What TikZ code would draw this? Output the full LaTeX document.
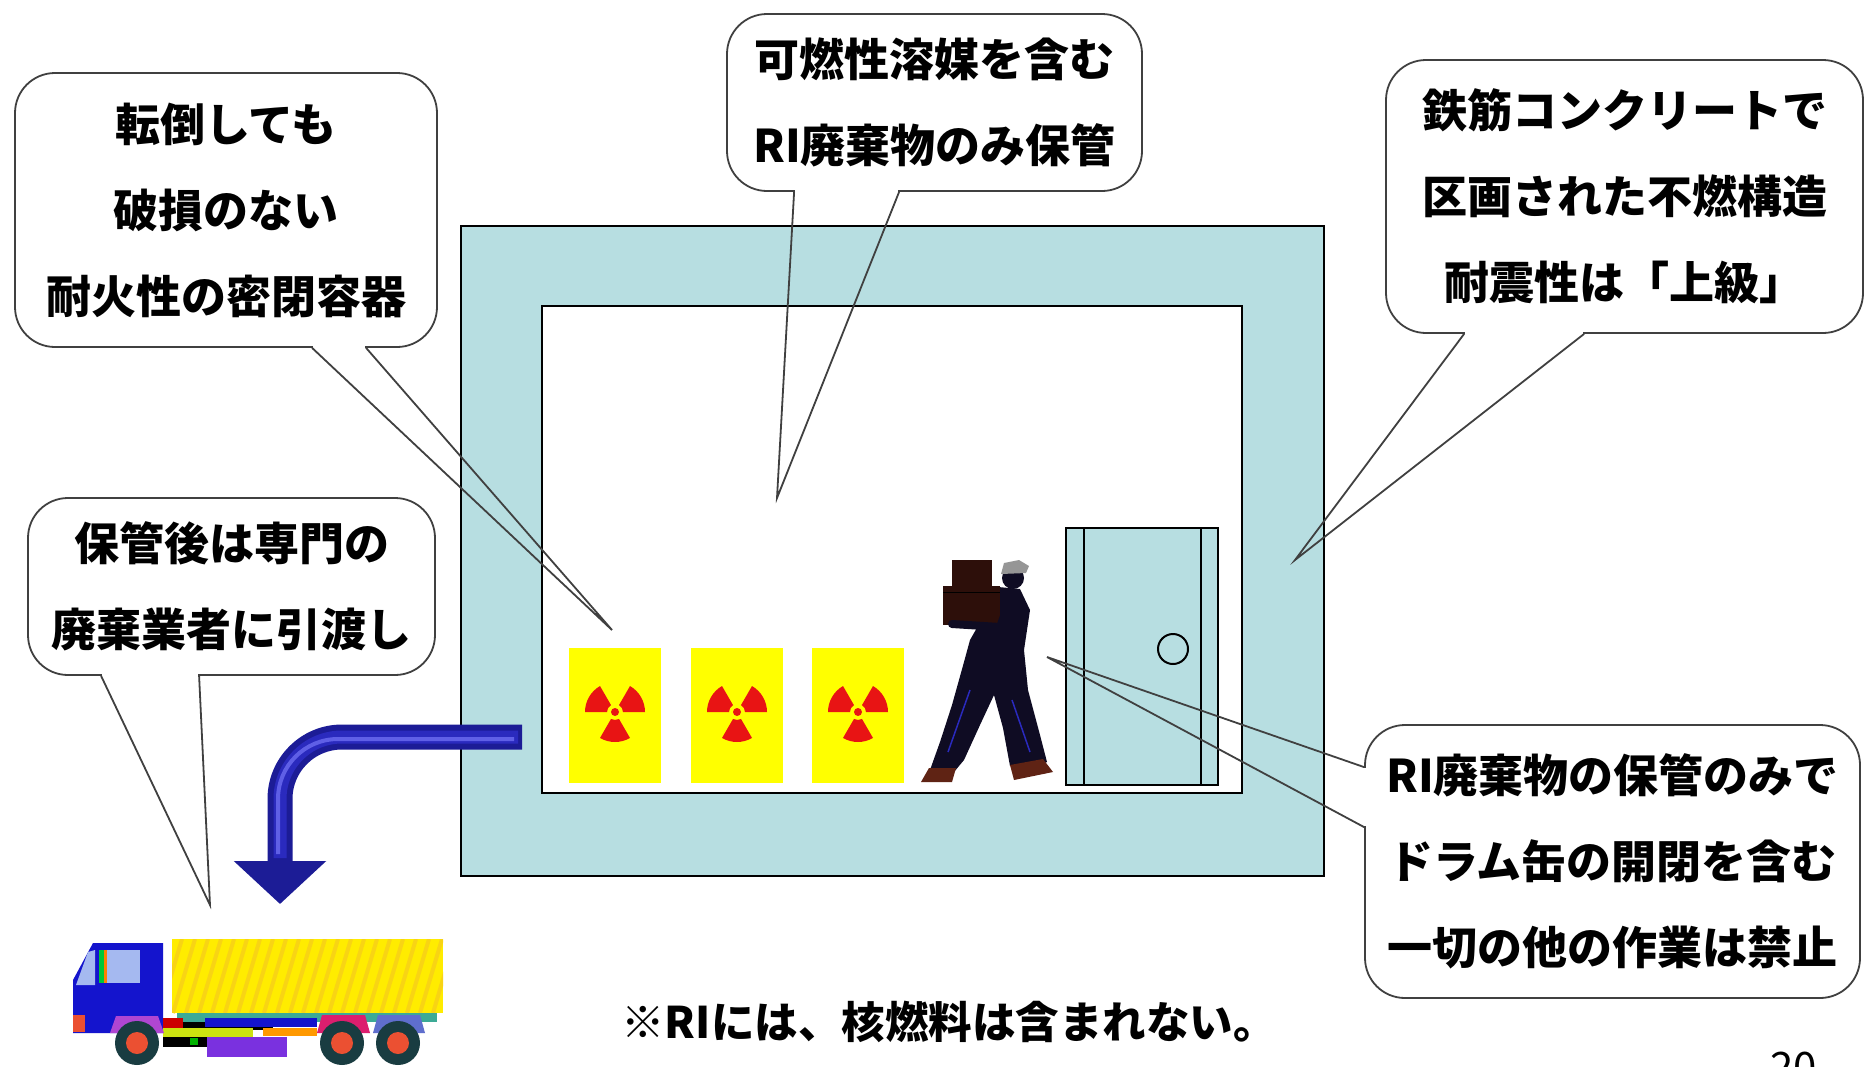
\documentclass[tikz,border=0pt]{standalone}
\usepackage{fontspec}
\newfontfamily\jp{Noto Sans CJK JP}
\usetikzlibrary{arrows.meta,calc,positioning}

\definecolor{wall}{RGB}{183,222,225}
\definecolor{drumyellow}{RGB}{255,255,0}
\definecolor{hazard}{RGB}{232,20,20}
\definecolor{chuteblue}{RGB}{28,28,150}
\definecolor{chutemid}{RGB}{42,42,190}
\definecolor{chutelight}{RGB}{95,95,230}
\definecolor{cabblue}{RGB}{20,20,205}
\definecolor{cabglass}{RGB}{165,185,240}
\definecolor{cargo}{RGB}{255,236,0}
\definecolor{cargostripe}{RGB}{248,212,20}
\definecolor{chassis}{RGB}{60,170,150}
\definecolor{tyre}{RGB}{25,60,65}
\definecolor{hub}{RGB}{235,80,50}
\definecolor{fenderpurple}{RGB}{175,70,210}
\definecolor{fenderpink}{RGB}{220,30,110}
\definecolor{fenderblue}{RGB}{95,110,205}
\definecolor{crate}{RGB}{45,15,10}
\definecolor{shoe}{RGB}{95,35,20}
\definecolor{overall}{RGB}{15,12,35}
\definecolor{capgrey}{RGB}{150,150,150}

\begin{document}
\begin{tikzpicture}[x=1pt,y=-1pt]
\tikzset{
    callout/.style={
        draw=black!75,
        fill=white,
        line width=1.8pt,
        rectangle,
        rounded corners=40pt,
        inner sep=0pt,
        align=center,
        font=\jp\bfseries\fontsize{45pt}{86pt}\selectfont,
    },
    pointer/.style={
        draw=black!75,
        line width=1.8pt,
    },
    gap/.style={
        fill=white
    },
    wallbox/.style={
        draw=black,
        line width=2pt,
        fill=wall
    },
    drum/.style={
        fill=drumyellow
    },
    blade/.style={
        fill=hazard
    },
}
\fill[white] (0,0) rectangle (1869,1066);
\useasboundingbox (0,0) rectangle (1869,1066);

% storage room
\draw[wallbox] (461,226) rectangle (1324,876);
\draw[draw=black, line width=2pt, fill=white] (542,306) rectangle (1242,793);

% door
\draw[wallbox] (1066,528) rectangle (1218,785);
\draw[line width=2pt] (1084,528) -- (1084,785) (1201,528) -- (1201,785);
\draw[line width=2pt] (1173,649) circle (15);

% drums
\foreach \x [count=\k] in {569,691,812} {
  \fill[drum] (\x,648) rectangle ++(92,135);
  \coordinate (mark\k) at (\x+46,712);
  \foreach \a in {-30,-150,90}
    \fill[blade] ($(mark\k)+(\a-30:8)$) arc[start angle=\a-30, end angle=\a+30, radius=8]
      -- ($(mark\k)+(\a+30:30)$) arc[start angle=\a+30, end angle=\a-30, radius=30] -- cycle;
  \fill[blade] (mark\k) circle (4);
}

% worker carrying crates
\fill[overall] (998,587) -- (1020,589) -- (1030,610) -- (1024,650) -- (1028,690)
  -- (1040,735) -- (1047,762) -- (1030,770) -- (1010,766) -- (1003,728) -- (994,695)
  -- (980,725) -- (964,760) -- (954,772) -- (930,770) -- (940,742) -- (952,705)
  -- (964,662) -- (970,640) -- (978,626) -- (988,605) -- cycle;
\draw[chutemid, line width=1.5pt] (1012,700) -- (1030,752) (970,690) -- (948,752);
\fill[overall] (1013,578) circle (11);
\fill[capgrey] (1001,574) -- (1004,563) -- (1019,560) -- (1029,566) -- (1026,573) -- cycle;
\fill[shoe] (1010,765) -- (1043,759) -- (1053,772) -- (1014,780) -- cycle;
\fill[shoe] (929,768) -- (956,768) -- (952,782) -- (921,782) -- cycle;
\fill[crate] (943,586) rectangle (1000,625);
\fill[crate] (952,560) rectangle (992,587);
\draw[black, line width=1pt] (943,592) -- (1000,592);
\draw[overall, line width=8pt, line cap=round] (1010,600) -- (1000,627) -- (952,624);

% hand-over arrow
\coordinate (chute) at (522,737);
\coordinate (truckTop) at (280,904);
\draw[chuteblue, line width=25pt, rounded corners=62pt, -{Triangle[width=90pt,length=43pt]}] (chute) -| (truckTop);
\draw[chutemid, line width=13pt, rounded corners=62pt] ($(chute)+(-4,0)$) -| ($(truckTop)+(0,-46)$);
\draw[chutelight, line width=4pt, rounded corners=60pt] ($(chute)+(-8,2)$) -| ($(truckTop)+(-2,-50)$);

% truck
\fill[cargo] (172,939) rectangle (443,1013);
\begin{scope}
  \clip (172,939) rectangle (443,1013);
  \foreach \i in {0,...,24}
    \draw[cargostripe, line width=4pt] (160+13*\i,1013) -- ++(22,-74);
\end{scope}
\fill[chassis] (177,1013) rectangle (437,1022);
\fill[cabblue] (93,943) -- (163,943) -- (163,1033) -- (73,1033) -- (73,980) -- cycle;
\fill[cabglass] (76,985) -- (88,952) -- (95,950) -- (95,985) -- cycle;
\fill[green!55!teal] (99,950) rectangle (104,983);
\fill[orange] (104,950) rectangle (107,983);
\fill[cabglass] (107,950) rectangle (140,983);
\fill[hub] (73,1015) rectangle (85,1032);
\fill[red!80!black] (163,1018) rectangle (183,1028);
\fill[black] (183,1022) rectangle (273,1030);
\fill[cabblue] (205,1018) rectangle (317,1027);
\fill[yellow!80!green] (163,1028) rectangle (253,1037);
\fill[orange!80!yellow] (263,1028) rectangle (317,1036);
\fill[black] (163,1037) rectangle (207,1047);
\fill[green!70!black] (190,1038) rectangle (198,1045);
\fill[fenderpurple!70!blue] (207,1037) rectangle (287,1057);
\fill[fenderpurple] (110,1033) -- (116,1016) -- (158,1016) -- (164,1033) -- cycle;
\fill[fenderpink] (317,1033) -- (322,1015) -- (365,1015) -- (370,1033) -- cycle;
\fill[fenderblue] (373,1033) -- (378,1015) -- (420,1015) -- (425,1033) -- cycle;
\foreach \x in {137,342,398} {
  \fill[tyre] (\x,1043) circle (22);
  \fill[hub] (\x,1043) circle (11);
}

% callouts
\node[callout, minimum width=422pt, minimum height=274pt] (fall) at (226,210)
  {転倒しても\\破損のない\\耐火性の密閉容器};
\node[callout, minimum width=415pt, minimum height=177pt] (solvent) at (934.5,102.5)
  {可燃性溶媒を含む\\RI廃棄物のみ保管};
\node[callout, minimum width=477pt, minimum height=273pt] (concrete) at (1624.5,196.5)
  {鉄筋コンクリートで\\区画された不燃構造\\耐震性は「上級」};
\node[callout, minimum width=407pt, minimum height=177pt] (handover) at (231.5,586.5)
  {保管後は専門の\\廃棄業者に引渡し};
\node[callout, minimum width=495pt, minimum height=273pt] (workban) at (1612.5,861.5)
  {RI廃棄物の保管のみで\\ドラム缶の開閉を含む\\一切の他の作業は禁止};

% callout pointers
\coordinate (fallTip) at (612,630);
\fill[gap] ($(fall.south west)+(299,-3)$) rectangle ($(fall.south west)+(351,3)$);
\draw[pointer] ($(fall.south west)+(298,0)$) -- (fallTip) -- ($(fall.south west)+(352,0)$);

\coordinate (solventTip) at (777,498);
\fill[gap] ($(solvent.south west)+(69,-3)$) rectangle ($(solvent.south west)+(172,3)$);
\draw[pointer] ($(solvent.south west)+(68,0)$) -- (solventTip) -- ($(solvent.south west)+(173,0)$);

\coordinate (concreteTip) at (1295,560);
\fill[gap] ($(concrete.south west)+(80,-3)$) rectangle ($(concrete.south west)+(198,3)$);
\draw[pointer] ($(concrete.south west)+(79,0)$) -- (concreteTip) -- ($(concrete.south west)+(199,0)$);

\coordinate (handoverTip) at (210,905);
\fill[gap] ($(handover.south west)+(75,-3)$) rectangle ($(handover.south west)+(171,3)$);
\draw[pointer] ($(handover.south west)+(74,0)$) -- (handoverTip) -- ($(handover.south west)+(172,0)$);

\coordinate (workbanTip) at (1047,657);
\fill[gap] ($(workban.north west)+(-3,44)$) rectangle ($(workban.north west)+(3,102)$);
\draw[pointer] ($(workban.north west)+(0,43)$) -- (workbanTip) -- ($(workban.north west)+(0,103)$);

% footnote and page number
\node[font=\jp\bfseries\fontsize{43.5pt}{50pt}\selectfont] (note) at (949,1022)
  {※RIには、核燃料は含まれない。};
\node[font=\jp\fontsize{42pt}{50pt}\selectfont, anchor=base west, inner sep=0pt] (page) at (1770,1082) {20};
\end{tikzpicture}
\end{document}
